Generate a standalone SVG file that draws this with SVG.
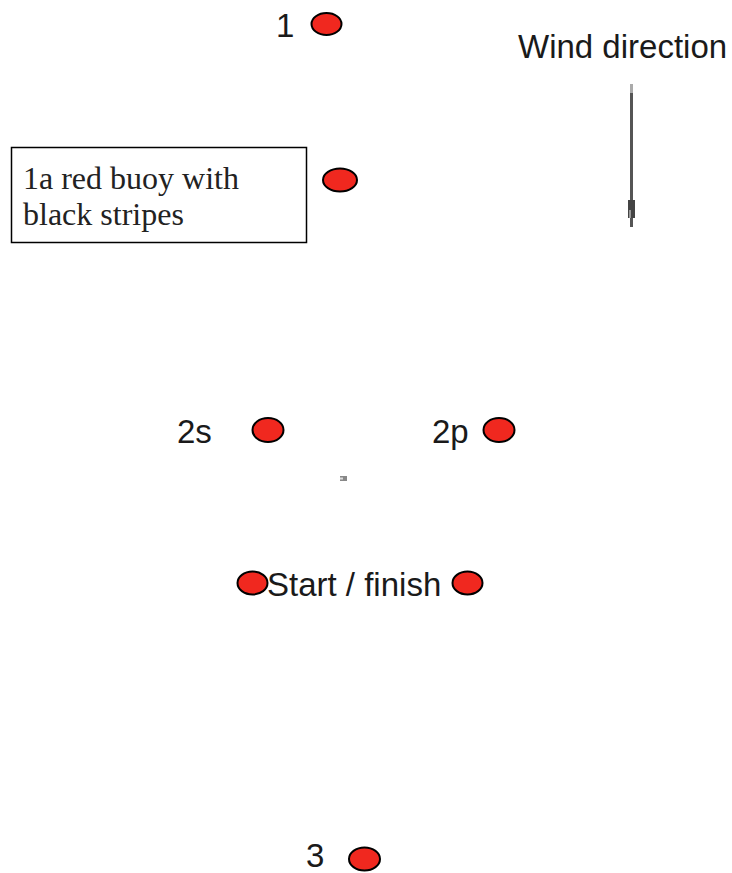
<svg xmlns="http://www.w3.org/2000/svg" width="732" height="873" viewBox="0 0 732 873">
<style>
.buoy{fill:#f0281f;stroke:#000;stroke-width:2}
.lbl{font-family:"Liberation Sans",Arial,sans-serif;font-size:33px;fill:#1a1a1a}
.note{font-family:"Liberation Serif","Times New Roman",serif;font-size:32px;fill:#222}
</style>
<rect width="732" height="873" fill="#fff"/>
<g id="buoy1">
<text class="lbl" x="276" y="37">1</text>
<ellipse class="buoy" cx="326.5" cy="24" rx="15" ry="11"/>
</g>
<g id="wind">
<text class="lbl" x="518" y="58">Wind direction</text>
<line x1="631.5" y1="84" x2="631.5" y2="93" stroke="#aaa" stroke-width="3"/>
<line x1="631.5" y1="93" x2="631.5" y2="227" stroke="#555" stroke-width="3"/>
<rect x="628" y="200" width="7" height="18" fill="#444"/>
<rect x="629" y="210" width="2" height="8" fill="#999"/>
</g>
<g id="note1a">
<rect x="11.5" y="147.5" width="295" height="95" fill="#fff" stroke="#000" stroke-width="1.5"/>
<text class="note" x="23" y="189">1a red buoy with</text>
<text class="note" x="23" y="225">black stripes</text>
</g>
<g id="buoy1a">
<ellipse class="buoy" cx="340" cy="180" rx="17" ry="11.5"/>
</g>
<g id="buoy2s">
<text class="lbl" x="177" y="443">2s</text>
<ellipse class="buoy" cx="268" cy="430" rx="15.5" ry="12"/>
</g>
<g id="buoy2p">
<text class="lbl" x="432" y="443">2p</text>
<ellipse class="buoy" cx="499" cy="430" rx="15.5" ry="12"/>
</g>
<g id="mark">
<rect x="340" y="476" width="7" height="5" fill="#888"/>
<rect x="340" y="477.5" width="3" height="2" fill="#ddd"/>
</g>
<g id="startfinish">
<ellipse class="buoy" cx="252.5" cy="583" rx="15" ry="11.5"/>
<text class="lbl" x="267" y="596">Start / finish</text>
<ellipse class="buoy" cx="467.5" cy="583" rx="15" ry="11.5"/>
</g>
<g id="buoy3">
<text class="lbl" x="306" y="867">3</text>
<ellipse class="buoy" cx="364.5" cy="859" rx="15.5" ry="11.5"/>
</g>
</svg>
